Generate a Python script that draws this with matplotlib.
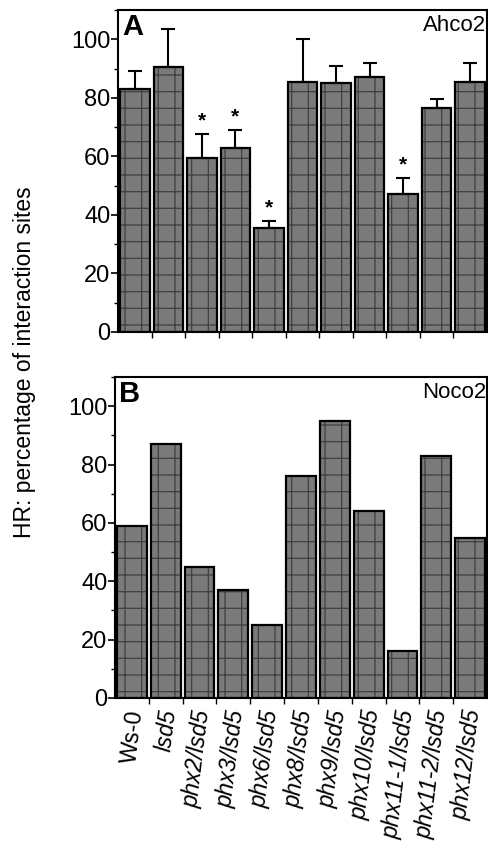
import numpy as np
import matplotlib as mpl
mpl.use('Agg')
import matplotlib.pyplot as plt
from matplotlib.ticker import MultipleLocator

plt.rcParams['font.family'] = ['Liberation Sans', 'DejaVu Sans']
plt.rcParams['hatch.color'] = '#404040'
plt.rcParams['hatch.linewidth'] = 0.9

labels = ['Ws-0', 'lsd5', 'phx2/lsd5', 'phx3/lsd5', 'phx6/lsd5', 'phx8/lsd5',
          'phx9/lsd5', 'phx10/lsd5', 'phx11-1/lsd5', 'phx11-2/lsd5', 'phx12/lsd5']
ahco2 = [83, 90.5, 59.5, 63, 35.5, 85.5, 85, 87, 47, 76.5, 85.5]
ahco2_err = [6.2, 13, 8, 6, 2.5, 14.5, 6, 5, 5.5, 3, 6.5]
ahco2_sig = [False, False, True, True, True, False, False, False, True, False, False]
noco2 = [59, 87, 45, 37, 25, 76, 95, 64, 16, 83, 55]

W, H = 488, 844
fig = plt.figure(figsize=(W / 100, H / 100), dpi=100)
axA = fig.add_axes([118 / W, 1 - 332 / H, (487 - 118) / W, (332 - 10) / H])
axB = fig.add_axes([115 / W, 1 - 698 / H, (487 - 115) / W, (698 - 377) / H])

x = np.arange(len(labels))


def draw_bars(ax, vals):
    # textured fill first, then a plain black outline on top
    ax.bar(x, vals, width=0.88, color='#7a7a7a', hatch='+', linewidth=0)
    ax.bar(x, vals, width=0.88, fill=False, edgecolor='black', linewidth=1.6)


def style(ax, tag, name):
    ax.set_xlim(-0.5, len(labels) - 0.5)
    ax.set_ylim(0, 110)
    ax.yaxis.set_major_locator(MultipleLocator(20))
    ax.yaxis.set_minor_locator(MultipleLocator(10))
    ax.set_xticks(x[:-1] + 0.5)
    ax.set_xticklabels([])
    ax.tick_params(axis='y', which='major', labelsize=17, length=5, width=1.2, pad=0.5)
    ax.tick_params(axis='y', which='minor', length=3, width=1)
    ax.tick_params(axis='x', length=4, width=1)
    for s in ax.spines.values():
        s.set_linewidth(1.5)
    ax.text(0.012, 0.99, tag, transform=ax.transAxes, fontsize=21,
            fontweight='bold', ha='left', va='top')
    ax.text(0.997, 0.985, name, transform=ax.transAxes, fontsize=16,
            ha='right', va='top')


draw_bars(axA, ahco2)
axA.errorbar(x, ahco2, yerr=[np.zeros(len(x)), ahco2_err], fmt='none',
             ecolor='black', elinewidth=1.5, capsize=5, capthick=1.5)
for i, sig in enumerate(ahco2_sig):
    if sig:
        axA.text(x[i], ahco2[i] + ahco2_err[i] + 4.5, '*', ha='center',
                 va='center', fontsize=15, fontweight='bold')
style(axA, 'A', 'Ahco2')

draw_bars(axB, noco2)
style(axB, 'B', 'Noco2')

for i, lab in enumerate(labels):
    axB.text(x[i] + 0.12, -4, lab, rotation=83, rotation_mode='anchor',
             ha='right', va='center', fontsize=16.5,
             style='normal' if lab == 'Ws-0' else 'italic',
             transform=axB.transData, clip_on=False)

fig.text(25 / W, 1 - 362 / H, 'HR: percentage of interaction sites',
         rotation=90, ha='center', va='center', fontsize=16.5)

fig.savefig('out.png', dpi=100)
